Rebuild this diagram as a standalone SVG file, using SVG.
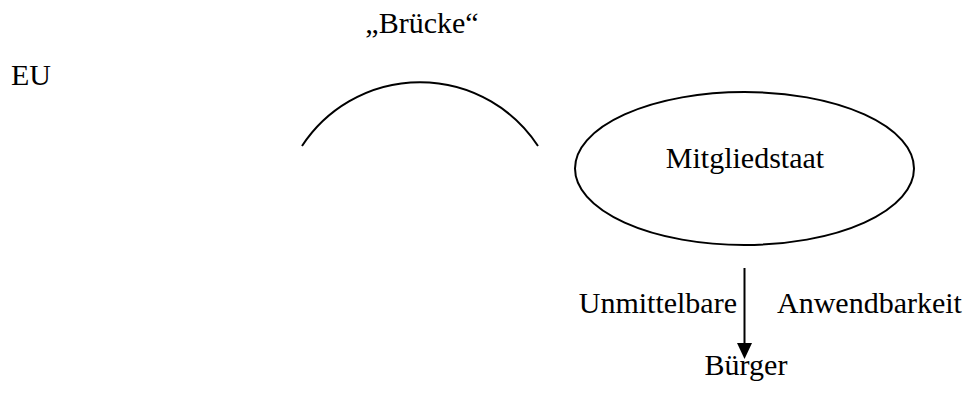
<svg xmlns="http://www.w3.org/2000/svg" width="974" height="397" viewBox="0 0 974 397">
<defs>
<style>
.t{font-family:'Liberation Serif','Times New Roman','DejaVu Serif',serif;font-size:30px;fill:#000}
.s{fill:none;stroke:#000;stroke-width:2}
</style>
</defs>
<rect width="974" height="397" fill="#fff"/>
<g id="eu"><text class="t" x="11" y="85">EU</text></g>
<g id="bruecke"><text class="t" x="422" y="33" text-anchor="middle">„Brücke“</text>
<path class="s" d="M302,146 A141,141 0 0 1 538,146"/></g>
<g id="mitgliedstaat"><ellipse class="s" cx="744.5" cy="168.5" rx="169.5" ry="76.5"/>
<text class="t" x="745" y="168" text-anchor="middle">Mitgliedstaat</text></g>
<g id="buerger"><text class="t" x="746" y="375" text-anchor="middle">Bürger</text></g>
<g id="connectors">
<line class="s" x1="744.5" y1="268" x2="744.5" y2="344"/>
<path d="M737,343 L752,343 L744.5,359 Z" fill="#000"/>
<text class="t" x="737" y="313" text-anchor="end">Unmittelbare</text>
<text class="t" x="777" y="313">Anwendbarkeit</text>
</g>
</svg>
